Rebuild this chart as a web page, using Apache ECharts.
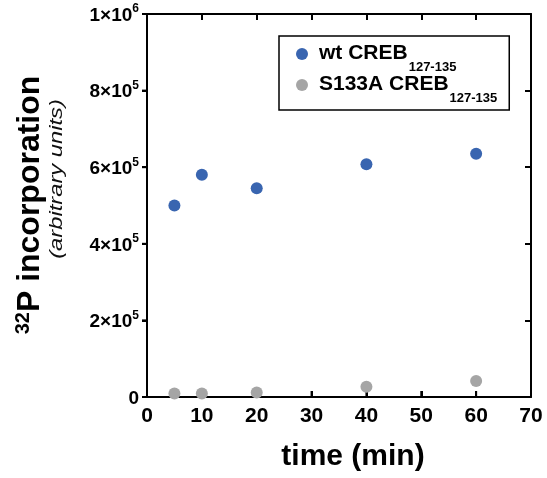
<!DOCTYPE html>
<html>
<head>
<meta charset="utf-8">
<script src="https://cdn.jsdelivr.net/npm/echarts@6/dist/echarts.min.js"></script>
<style>html,body{margin:0;padding:0;background:#fff}#c{width:547px;height:478px}</style>
</head>
<body>
<div id="c"></div>
<script>
// ---- data ----
var timeMin = [5, 10, 20, 40, 60];
var wtValues = [500000, 580000, 545000, 608000, 635000];
var s133aValues = [9000, 9000, 12000, 27000, 42000];
var seriesNames = ['wt CREB', 'S133A CREB'];
var seriesSub = ['127-135', '127-135'];
var xTickValues = [0, 10, 20, 30, 40, 50, 60, 70];
var yTickValues = [0, 200000, 400000, 600000, 800000, 1000000];
var yTickMantissa = {0: '0', 200000: '2', 400000: '4', 600000: '6', 800000: '8', 1000000: '1'};
var yTickExponent = {0: '', 200000: '5', 400000: '5', 600000: '5', 800000: '5', 1000000: '6'};
var xTitle = 'time (min)';
var yTitleSup = '32';
var yTitleMain = 'P incorporation';
var yTitleSub = '(arbitrary units)';

var FONT = '"Liberation Sans", Arial, Helvetica, sans-serif';
var chart = echarts.init(document.getElementById('c'));

function pairs(xs, ys) { return xs.map(function (x, i) { return [x, ys[i]]; }); }

function ax(pos, inside, len, extra) {
  var o = {type: 'value', position: pos,
    axisLine: {show: true, onZero: false, lineStyle: {color: '#000', width: 2}},
    axisTick: {show: true, inside: inside, length: len, lineStyle: {color: '#000', width: 2}},
    splitLine: {show: false}};
  for (var k in extra) o[k] = extra[k];
  return o;
}

var option = {
  animation: false,
  grid: {left: 147, right: 16, top: 14, bottom: 81},
  xAxis: [
    ax('bottom', true, 6, {min: 0, max: 70, interval: 10,
      axisLabel: {margin: 9, color: '#000', fontFamily: FONT, fontWeight: 'bold', fontSize: 21}}),
    ax('top', true, 6, {min: 0, max: 70, interval: 10, axisLabel: {show: false}})
  ],
  yAxis: [
    ax('left', false, 5, {min: 0, max: 1000000, interval: 200000,
      axisLabel: {
        margin: 8, color: '#000',
        formatter: function (v) {
          var e = yTickExponent[v];
          return e ? '{b|' + yTickMantissa[v] + '×10}{s|' + e + '}' : '{b|' + yTickMantissa[v] + '}';
        },
        rich: {
          b: {fontFamily: FONT, fontWeight: 'bold', fontSize: 19, color: '#000', lineHeight: 22, verticalAlign: 'bottom'},
          s: {fontFamily: FONT, fontWeight: 'bold', fontSize: 12, color: '#000', lineHeight: 22, verticalAlign: 'top', padding: [0, 0, 8, 0]}
        }
      }}),
    ax('right', true, 6, {min: 0, max: 1000000, interval: 200000, axisLabel: {show: false}})
  ],
  legend: {
    show: true, orient: 'vertical', left: 279, top: 36,
    padding: [7, 12, 5, 17], itemGap: 0,
    borderColor: '#000', borderWidth: 1.5, borderRadius: 0,
    icon: 'circle', itemWidth: 12, itemHeight: 12,
    formatter: function (name) {
      var i = seriesNames.indexOf(name);
      return '{m|' + name + '}{s|' + seriesSub[i] + '}';
    },
    textStyle: {
      rich: {
        m: {fontFamily: FONT, fontWeight: 'bold', fontSize: 21, color: '#000', lineHeight: 22, verticalAlign: 'top', padding: [0, 0, 0, 6]},
        s: {fontFamily: FONT, fontWeight: 'bold', fontSize: 13, color: '#000', lineHeight: 13, verticalAlign: 'top', padding: [18, 0, 0, 1]}
      }
    },
    data: seriesNames
  },
  graphic: [
    {type: 'text', x: 353, y: 457, style: {text: xTitle, font: 'bold 30px ' + FONT, fill: '#000', align: 'center', verticalAlign: 'middle'}},
    {type: 'text', x: 30, y: 205, rotation: Math.PI / 2,
      style: {text: '{sup|' + yTitleSup + '}{m|' + yTitleMain + '}', align: 'center', verticalAlign: 'middle',
        rich: {
          sup: {fontFamily: FONT, fontWeight: 'bold', fontSize: 20, fill: '#000', lineHeight: 34, verticalAlign: 'top'},
          m: {fontFamily: FONT, fontWeight: 'bold', fontSize: 32, fill: '#000', lineHeight: 34, verticalAlign: 'middle'}
        }}},
    {type: 'text', x: 57, y: 179, rotation: Math.PI / 2, scaleX: 1.25,
      style: {text: yTitleSub, font: 'italic 19px ' + FONT, fill: '#111', align: 'center', verticalAlign: 'middle'}}
  ],
  series: [{
    name: seriesNames[0], type: 'scatter', xAxisIndex: 0, yAxisIndex: 0,
    symbol: 'circle', symbolSize: 12, z: 5,
    itemStyle: {color: '#3965B0', opacity: 1},
    data: pairs(timeMin, wtValues)
  }, {
    name: seriesNames[1], type: 'scatter', xAxisIndex: 0, yAxisIndex: 0,
    symbol: 'circle', symbolSize: 12, z: 5,
    itemStyle: {color: '#A5A5A5', opacity: 1},
    data: pairs(timeMin, s133aValues)
  }, {
    // bottom-axis tick marks (inside), placed through the axis scale
    name: 'xticks', type: 'custom', xAxisIndex: 0, yAxisIndex: 0, silent: true, clip: false, z: 4,
    data: xTickValues.map(function (v) { return [v, 0]; }),
    renderItem: function (params, api) {
      var p = api.coord([api.value(0), 0]);
      return {type: 'line', shape: {x1: p[0], y1: p[1], x2: p[0], y2: p[1] - 6}, style: {stroke: '#000', lineWidth: 2}};
    }
  }, {
    // left-axis tick marks (outside), placed through the axis scale
    name: 'yticks', type: 'custom', xAxisIndex: 0, yAxisIndex: 0, silent: true, clip: false, z: 4,
    data: yTickValues.map(function (v) { return [0, v]; }),
    renderItem: function (params, api) {
      var p = api.coord([0, api.value(1)]);
      return {type: 'line', shape: {x1: p[0] - 5, y1: p[1], x2: p[0], y2: p[1]}, style: {stroke: '#000', lineWidth: 2}};
    }
  }]
};
chart.setOption(option);
</script>
</body>
</html>
